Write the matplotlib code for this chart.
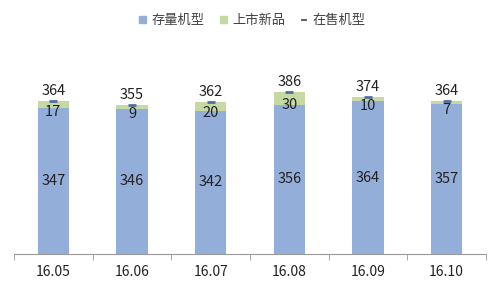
import matplotlib.pyplot as plt
from matplotlib.patches import Patch
from matplotlib.lines import Line2D

plt.rcParams['font.family'] = ['Noto Sans CJK SC', 'DejaVu Sans']

# monthly model counts
months = ['16.05', '16.06', '16.07', '16.08', '16.09', '16.10']
existing = [347, 346, 342, 356, 364, 357]   # 存量机型
new = [17, 9, 20, 30, 10, 7]                # 上市新品
on_sale = [364, 355, 362, 386, 374, 364]    # 在售机型

blue = '#93afd9'
green = '#c6d9a3'
dash = '#4f6f9f'
txt = '#222222'

fig = plt.figure(figsize=(5, 2.86), dpi=100)
ax = fig.add_axes([0.028, 0.112, 0.944, 0.66])

x = range(len(months))
ax.bar(x, existing, width=0.4, color=blue)
ax.bar(x, new, width=0.4, bottom=existing, color=green)
ax.plot(x, on_sale, linestyle='none', marker='_', markersize=6,
        markeredgewidth=2, color=dash)

for i in x:
    ax.text(i, existing[i] / 2, str(existing[i]), ha='center', va='center',
            fontsize=10.5, color=txt)
    ax.annotate(str(new[i]), (i, existing[i] + new[i] / 2), xytext=(0, -5),
                textcoords='offset points', ha='center', va='center',
                fontsize=10.5, color=txt)
    ax.annotate(str(on_sale[i]), (i, on_sale[i]), xytext=(0, 7.5),
                textcoords='offset points', ha='center', va='center',
                fontsize=10.5, color=txt)

ax.set_xlim(-0.5, len(months) - 0.5)
ax.set_ylim(0, 450)
ax.set_xticks(x)
ax.set_xticklabels(months, fontsize=10, color=txt)
ax.tick_params(axis='x', length=0, pad=8)
ax.set_xticks([i - 0.5 for i in range(len(months) + 1)], minor=True)
ax.tick_params(axis='x', which='minor', length=4, color='#999999')
ax.set_yticks([])
for s in ['top', 'right', 'left']:
    ax.spines[s].set_visible(False)
ax.spines['bottom'].set_color('#999999')

handles = [Patch(color=blue), Patch(color=green),
           Line2D([], [], linestyle='none', marker='_', markersize=5,
                  markeredgewidth=1.2, color='#444444')]
fig.legend(handles, ['存量机型', '上市新品', '在售机型'], loc='center',
           bbox_to_anchor=(0.505, 0.928), ncol=3, frameon=False, fontsize=9.5,
           handlelength=0.5, handleheight=0.5, handletextpad=0.4,
           columnspacing=1.2, labelcolor='#404040')

fig.savefig('out.png', dpi=100)
